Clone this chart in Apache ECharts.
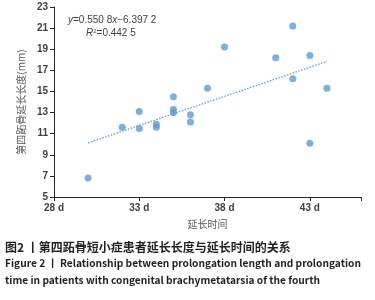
<!DOCTYPE html>
<html>
<head>
<meta charset="utf-8">
<script src="https://cdn.jsdelivr.net/npm/echarts@6/dist/echarts.min.js"></script>
<style>
  html, body { margin: 0; padding: 0; background: #fff; }
  #chart { width: 375px; height: 300px; }
</style>
</head>
<body>
<div id="chart"></div>
<script>
// days of prolongation vs prolongation length (mm)
const days = [30, 32, 33, 33, 34, 34, 35, 35, 35, 36, 36, 37, 38, 41, 42, 42, 43, 43, 44];
const lengths = [6.8, 11.6, 11.5, 13.1, 11.9, 11.6, 14.5, 13.3, 13.0, 12.8, 12.1, 15.3, 19.2, 18.2, 21.2, 16.2, 18.4, 10.1, 15.3];

// linear trend line ends
const trendX = [30, 44];
const trendY = [10.13, 17.84];

const xTicks = [28, 33, 38, 43];
const yTicks = [5, 7, 9, 11, 13, 15, 17, 19, 21, 23];

const cap1 = '图2 丨第四跖骨短小症患者延长长度与延长时间的关系';
const cap2 = 'Figure 2 丨 Relationship between prolongation length and prolongation';
const cap3 = 'time in patients with congenital brachymetatarsia of the fourth';

const pts = days.map((d, i) => [d, lengths[i]]);
const trend = trendX.map((d, i) => [d, trendY[i]]);

const axisFont = 'Liberation Sans';
const chart = echarts.init(document.getElementById('chart'));
chart.setOption({
  backgroundColor: '#fff',
  animation: false,
  grid: { left: 54, right: 14, top: 7, bottom: 103 },
  xAxis: {
    type: 'value',
    min: xTicks[0],
    max: 46,
    interval: 5,
    splitLine: { show: false },
    axisLine: { lineStyle: { color: '#262626', width: 1 } },
    axisTick: { show: true, length: 4, lineStyle: { color: '#262626' } },
    axisLabel: {
      color: '#404040', fontSize: 10, fontWeight: 'bold', fontFamily: axisFont, margin: 6,
      formatter: v => xTicks.indexOf(v) >= 0 ? v + ' d' : ''
    },
    name: '延长时间',
    nameLocation: 'middle',
    nameGap: 22,
    nameTextStyle: { color: '#595959', fontSize: 10, fontFamily: 'Noto Sans CJK SC' }
  },
  yAxis: {
    type: 'value',
    min: yTicks[0],
    max: yTicks[yTicks.length - 1],
    interval: 2,
    splitLine: { show: false },
    axisLine: { show: true, lineStyle: { color: '#262626', width: 1 } },
    axisTick: { show: true, length: 4, lineStyle: { color: '#262626' } },
    axisLabel: { color: '#404040', fontSize: 10, fontWeight: 'bold', fontFamily: axisFont, margin: 6 },
    name: '第四跖骨延长长度(mm)',
    nameLocation: 'middle',
    nameGap: 28,
    nameTextStyle: { color: '#595959', fontSize: 10, fontFamily: 'Noto Sans CJK SC' }
  },
  series: [
    {
      type: 'line',
      data: trend,
      symbol: 'none',
      lineStyle: { color: '#5b9bd5', width: 1.3, type: [1.5, 1.5] },
      silent: true,
      z: 1
    },
    {
      type: 'scatter',
      data: pts,
      symbolSize: 7,
      itemStyle: { color: '#5b9bd5' },
      z: 2
    }
  ],
  graphic: [
    {
      type: 'text', left: 68, top: 15,
      style: { text: '{i|y}=0.550 8{i|x}\u22126.397 2', fill: '#404040',
        font: '10px "Liberation Sans"', rich: { i: { fontStyle: 'italic', fontSize: 10, fontFamily: 'Liberation Sans' } } }
    },
    {
      type: 'text', left: 86, top: 28,
      style: { text: '{i|R}{s|2}=0.442 5', fill: '#404040', font: '10px "Liberation Sans"',
        rich: { i: { fontStyle: 'italic', fontSize: 10, fontFamily: 'Liberation Sans' }, s: { fontSize: 6, verticalAlign: 'top', fontFamily: 'Liberation Sans' } } }
    },
    {
      type: 'text', left: 5, top: 241,
      style: { text: cap1, fill: '#231f20', font: 'bold 12px "Noto Sans CJK SC"' }
    },
    {
      type: 'text', left: 5, top: 258,
      style: { text: cap2, fill: '#231f20', font: 'bold 10.2px "Noto Sans CJK SC"' }
    },
    {
      type: 'text', left: 5, top: 275,
      style: { text: cap3, fill: '#231f20', font: 'bold 10.2px "Noto Sans CJK SC"' }
    }
  ]
});
</script>
</body>
</html>
